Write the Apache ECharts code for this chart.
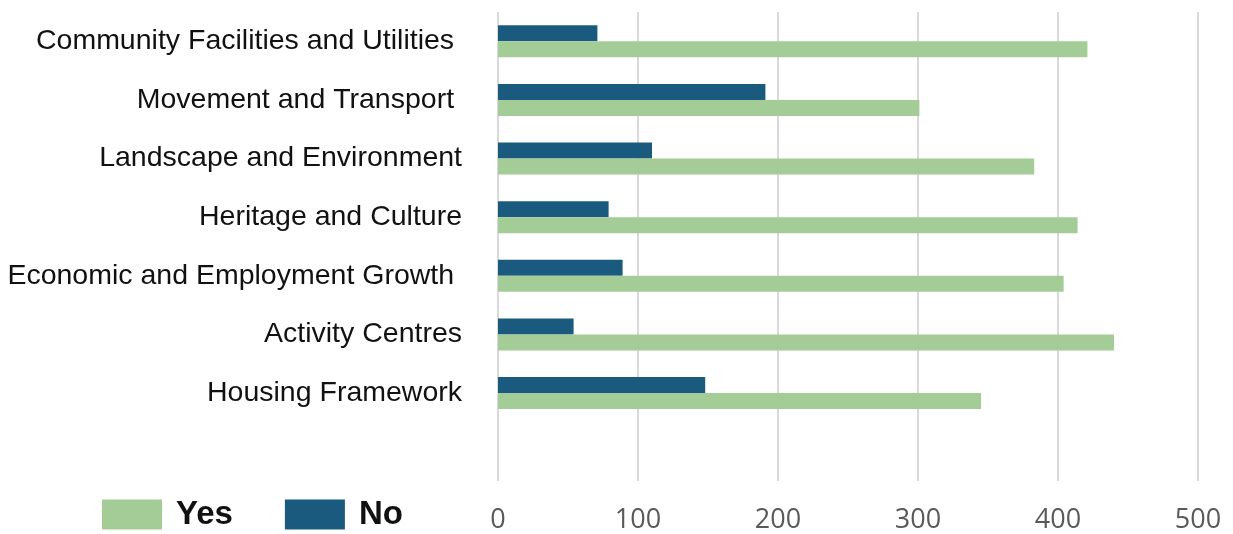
<!DOCTYPE html>
<html>
<head>
<meta charset="utf-8">
<style>
  html, body { margin: 0; padding: 0; background: #ffffff; }
  #chart { width: 1233px; height: 534px; }
</style>
<script src="https://cdn.jsdelivr.net/npm/echarts@6/dist/echarts.min.js"></script>
</head>
<body>
<div id="chart"></div>
<script>
// Survey responses per plan theme (top to bottom); the last empty slot leaves a gap above the axis
const categories = [
  'Community Facilities and Utilities ',
  'Movement and Transport ',
  'Landscape and Environment',
  'Heritage and Culture',
  'Economic and Employment Growth ',
  'Activity Centres',
  'Housing Framework',
  ''
];
const yesValues = [421, 301, 383, 414, 404, 440, 345, null];
const noValues  = [71, 191, 110, 79, 89, 54, 148, null];
const xTicks = [0, 100, 200, 300, 400, 500];

const GREEN = '#a3cc97';
const BLUE = '#1a5a7e';
const SANS = "'Liberation Sans', Arial, sans-serif";

const chart = echarts.init(document.getElementById('chart'), null, { renderer: 'canvas' });

chart.setOption({
  animation: false,
  backgroundColor: '#ffffff',
  grid: { left: 498, right: 35, top: 12, bottom: 51, containLabel: false },
  legend: {
    data: ['Yes', 'No'],
    left: 97,
    top: 493,
    icon: 'rect',
    itemWidth: 60,
    itemHeight: 30,
    itemGap: 52,
    textStyle: {
      fontFamily: SANS,
      fontSize: 33,
      fontWeight: 'bold',
      color: '#111111',
      padding: [3, 0, 0, 9]
    }
  },
  xAxis: {
    type: 'value',
    min: xTicks[0],
    max: xTicks[xTicks.length - 1],
    interval: xTicks[1] - xTicks[0],
    axisLine: { show: false },
    axisTick: { show: false },
    splitLine: { show: true, lineStyle: { color: '#d9d9d9', width: 2 } },
    axisLabel: {
      margin: 26,
      color: '#595959',
      fontFamily: "'Open Sans', sans-serif",
      fontSize: 27
    }
  },
  yAxis: {
    type: 'category',
    data: categories,
    inverse: true,
    axisLine: { show: false },
    axisTick: { show: false },
    splitLine: { show: false },
    axisLabel: {
      margin: 36,
      color: '#111111',
      fontFamily: SANS,
      fontSize: 28.5
    }
  },
  series: [
    {
      name: 'No',
      type: 'bar',
      data: noValues,
      barWidth: 16,
      barGap: '0%',
      itemStyle: { color: BLUE }
    },
    {
      name: 'Yes',
      type: 'bar',
      data: yesValues,
      barWidth: 16,
      barGap: '0%',
      itemStyle: { color: GREEN }
    }
  ]
});
</script>
</body>
</html>
